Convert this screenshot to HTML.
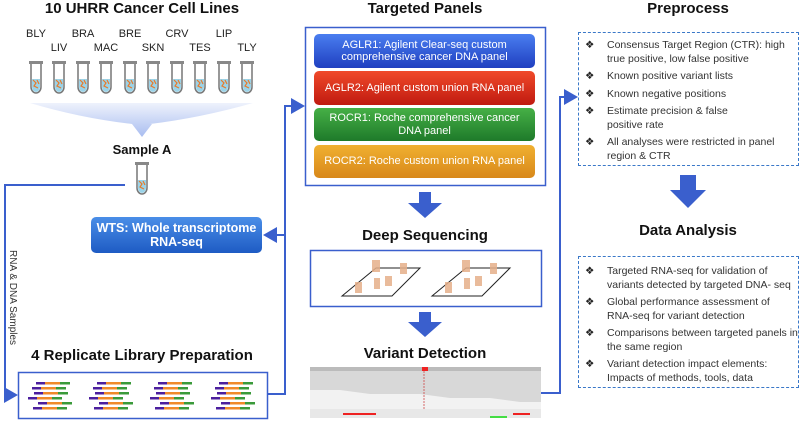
<!DOCTYPE html>
<html><head><meta charset="utf-8"><style>
body{margin:0;width:800px;height:421px;background:#fff;font-family:"Liberation Sans",sans-serif;position:relative;overflow:hidden}
.a{position:absolute}
.t{position:absolute;font-weight:bold;font-size:15px;color:#111;text-align:center;white-space:nowrap}
.lbl{position:absolute;font-size:11px;color:#222;transform:translateX(-50%)}
.bar{position:absolute;left:314px;width:221px;border-radius:5px;color:#fff;font-size:11px;text-align:center;display:flex;align-items:center;justify-content:center;line-height:12.5px}
.box{position:absolute;border:1.5px dashed #3a78c8;box-sizing:border-box}
ul{margin:0;padding:0;list-style:none;font-size:10.5px;color:#333;line-height:13.5px}
li{position:relative;padding-left:28px;margin-bottom:4px}
li:before{content:"❖";position:absolute;left:6px;top:0;color:#222}
</style></head><body>
<div class="t" style="left:0;width:284px;top:0">10 UHRR Cancer Cell Lines</div>
<div class="lbl" style="left:36px;top:28px">BLY</div><div class="lbl" style="left:83px;top:28px">BRA</div><div class="lbl" style="left:130px;top:28px">BRE</div><div class="lbl" style="left:177px;top:28px">CRV</div><div class="lbl" style="left:224px;top:28px">LIP</div>
<div class="lbl" style="left:59px;top:42px">LIV</div><div class="lbl" style="left:106px;top:42px">MAC</div><div class="lbl" style="left:153px;top:42px">SKN</div><div class="lbl" style="left:200px;top:42px">TES</div><div class="lbl" style="left:247px;top:42px">TLY</div>
<svg class="a" style="left:0;top:0" width="800" height="421">
<defs><linearGradient id="f" x1="0" y1="0" x2="0" y2="1"><stop offset="0" stop-color="#eef2fc"/><stop offset="1" stop-color="#a9bdf0"/></linearGradient>
<g id="tube"><rect x="-7" y="0" width="14" height="3" fill="#888"/><path d="M-5 3 V26 A5 6 0 0 0 5 26 V3" fill="#fff" stroke="#777" stroke-width="1.5"/><path d="M-4 18 V26 A4 5 0 0 0 4 26 V18Z" fill="#9bd3e8"/><path d="M-3 19 l3 3 l-2 3 l4 2 M1 19 l2 4" stroke="#e87a2a" stroke-width="1.2" fill="none"/></g>
<marker id="ar" markerWidth="8" markerHeight="8" refX="6" refY="4" orient="auto"><path d="M0 0L7 4L0 8Z" fill="#3a5fcd"/></marker></defs>
<g>
<use href="#tube" x="36" y="61"/><use href="#tube" x="59" y="61"/><use href="#tube" x="83" y="61"/><use href="#tube" x="106" y="61"/><use href="#tube" x="130" y="61"/><use href="#tube" x="153" y="61"/><use href="#tube" x="177" y="61"/><use href="#tube" x="200" y="61"/><use href="#tube" x="224" y="61"/><use href="#tube" x="247" y="61"/>
</g>
<path d="M30 103 H253 Q200 118 150 124 L151 124 H152 L142 137 L132 124 Q80 118 30 103Z" fill="url(#f)"/>
<use href="#tube" x="142" y="162"/>
<g stroke="#3a5fcd" stroke-width="2" fill="none">
<path d="M125 185 H5 V395 H16" marker-end="url(#ar)"/>
<path d="M267 394 H285 V106 H303" marker-end="url(#ar)"/>
<path d="M285 235 H265" marker-end="url(#ar)"/>
<path d="M541 393 H560 V97 H576" marker-end="url(#ar)"/>
</g>
<path d="M419 192 H431 V203 H442 L425 218 L408 203 H419Z" fill="#3a5fcd"/>
<path d="M419 312 H431 V322 H442 L425 337 L408 322 H419Z" fill="#3a5fcd"/>
<path d="M680 175 H696 V190 H706 L688 208 L670 190 H680Z" fill="#3a5fcd"/>
<rect x="18.5" y="372.5" width="249" height="46" fill="#fff" stroke="#3a5fcd" stroke-width="1.5"/>
<g id="reads">
<rect x="36" y="382" width="9" height="2.5" fill="#4b1f9e"/><rect x="45" y="382" width="15" height="2.5" fill="#f08a2a"/><rect x="60" y="382" width="10" height="2.5" fill="#3a9a3a"/>
<rect x="32" y="387" width="9" height="2.5" fill="#4b1f9e"/><rect x="41" y="387" width="15" height="2.5" fill="#f08a2a"/><rect x="56" y="387" width="10" height="2.5" fill="#3a9a3a"/>
<rect x="34" y="392" width="9" height="2.5" fill="#4b1f9e"/><rect x="43" y="392" width="15" height="2.5" fill="#f08a2a"/><rect x="58" y="392" width="10" height="2.5" fill="#3a9a3a"/>
<rect x="28" y="397" width="9" height="2.5" fill="#4b1f9e"/><rect x="37" y="397" width="15" height="2.5" fill="#f08a2a"/><rect x="52" y="397" width="10" height="2.5" fill="#3a9a3a"/>
<rect x="38" y="402" width="9" height="2.5" fill="#4b1f9e"/><rect x="47" y="402" width="15" height="2.5" fill="#f08a2a"/><rect x="62" y="402" width="10" height="2.5" fill="#3a9a3a"/>
<rect x="33" y="407" width="9" height="2.5" fill="#4b1f9e"/><rect x="42" y="407" width="15" height="2.5" fill="#f08a2a"/><rect x="57" y="407" width="10" height="2.5" fill="#3a9a3a"/>
</g>
<use href="#reads" x="61"/><use href="#reads" x="122"/><use href="#reads" x="183"/>
<rect x="305.5" y="27.5" width="240" height="158" fill="none" stroke="#3a5fcd" stroke-width="1.5"/>
<rect x="310.5" y="250.5" width="231" height="56" fill="#fff" stroke="#3a5fcd" stroke-width="1.5"/>
<g stroke="#222" fill="none" stroke-width="1"><path d="M342 296 L376 268 H420 L392 296Z"/><path d="M432 296 L466 268 H510 L482 296Z"/></g>
<g fill="#e6b08a" opacity=".85"><rect x="372" y="260" width="8" height="12"/><rect x="400" y="263" width="7" height="11"/><rect x="385" y="276" width="7" height="10"/><rect x="355" y="282" width="7" height="11"/><rect x="374" y="278" width="6" height="11"/>
<rect x="462" y="260" width="8" height="12"/><rect x="490" y="263" width="7" height="11"/><rect x="475" y="276" width="7" height="10"/><rect x="445" y="282" width="7" height="11"/><rect x="464" y="278" width="6" height="11"/></g>
<rect x="310" y="367" width="231" height="51" fill="#d8d8d8"/>
<rect x="310" y="367" width="231" height="4" fill="#bbb"/>
<path d="M310 390 H340 L370 394 H420 L450 398 H490 L520 402 H541 V409 H310Z" fill="#f2f2f2"/>
<rect x="310" y="409" width="231" height="9" fill="#e8e8e8"/>
<rect x="422" y="367" width="6" height="4" fill="#e22"/><line x1="424" y1="371" x2="424" y2="410" stroke="#c33" stroke-width=".7" stroke-dasharray="2 1"/>
<rect x="343" y="413" width="33" height="2" fill="#e22"/><rect x="513" y="413" width="17" height="2" fill="#e22"/><rect x="490" y="416" width="17" height="2" fill="#4d4"/>
</svg>
<div class="t" style="left:0;width:284px;top:142px;font-size:13px">Sample A</div>
<div class="a" style="left:91px;top:217px;width:171px;height:36px;border-radius:5px;background:linear-gradient(#4a8ee8,#1e5bc4);color:#fff;font-weight:bold;font-size:12.5px;text-align:center;line-height:14px;display:flex;align-items:center;justify-content:center">WTS: Whole transcriptome<br>RNA-seq</div>
<div class="a" style="top:250px;font-size:10px;color:#333;transform:rotate(90deg);transform-origin:0 0;left:18px;white-space:nowrap">RNA &amp; DNA Samples</div>
<div class="t" style="left:0;width:284px;top:347px">4 Replicate Library Preparation</div>
<div class="t" style="left:305px;width:240px;top:0">Targeted Panels</div>
<div class="bar" style="top:34px;height:34px;background:linear-gradient(#4a7ef0,#1f3fc0)">AGLR1: Agilent Clear-seq custom<br>comprehensive cancer DNA panel</div>
<div class="bar" style="top:71px;height:34px;background:linear-gradient(#f04a2a,#c01a10)">AGLR2: Agilent custom union RNA panel</div>
<div class="bar" style="top:108px;height:33px;background:linear-gradient(#46b046,#1e7a2a)">ROCR1: Roche comprehensive cancer<br>DNA panel</div>
<div class="bar" style="top:145px;height:33px;background:linear-gradient(#f0b030,#d8881a)">ROCR2: Roche custom union RNA panel</div>
<div class="t" style="left:305px;width:240px;top:227px">Deep Sequencing</div>
<div class="t" style="left:305px;width:240px;top:345px">Variant Detection</div>
<div class="t" style="left:578px;width:220px;top:0">Preprocess</div>
<div class="box" style="left:578px;top:32px;width:221px;height:134px;padding-top:6px"><ul>
<li>Consensus Target Region (CTR): high true positive, low false positive</li>
<li>Known positive variant lists</li>
<li>Known negative positions</li>
<li>Estimate precision &amp; false<br>positive rate</li>
<li>All analyses were restricted in panel region &amp; CTR</li></ul></div>
<div class="t" style="left:578px;width:220px;top:222px">Data Analysis</div>
<div class="box" style="left:578px;top:256px;width:221px;height:132px;padding-top:8px"><ul>
<li>Targeted RNA-seq for validation of variants detected by targeted DNA- seq</li>
<li>Global performance assessment of RNA-seq for variant detection</li>
<li>Comparisons between targeted panels in the same region</li>
<li>Variant detection impact elements: Impacts of methods, tools, data</li></ul></div>
</body></html>
